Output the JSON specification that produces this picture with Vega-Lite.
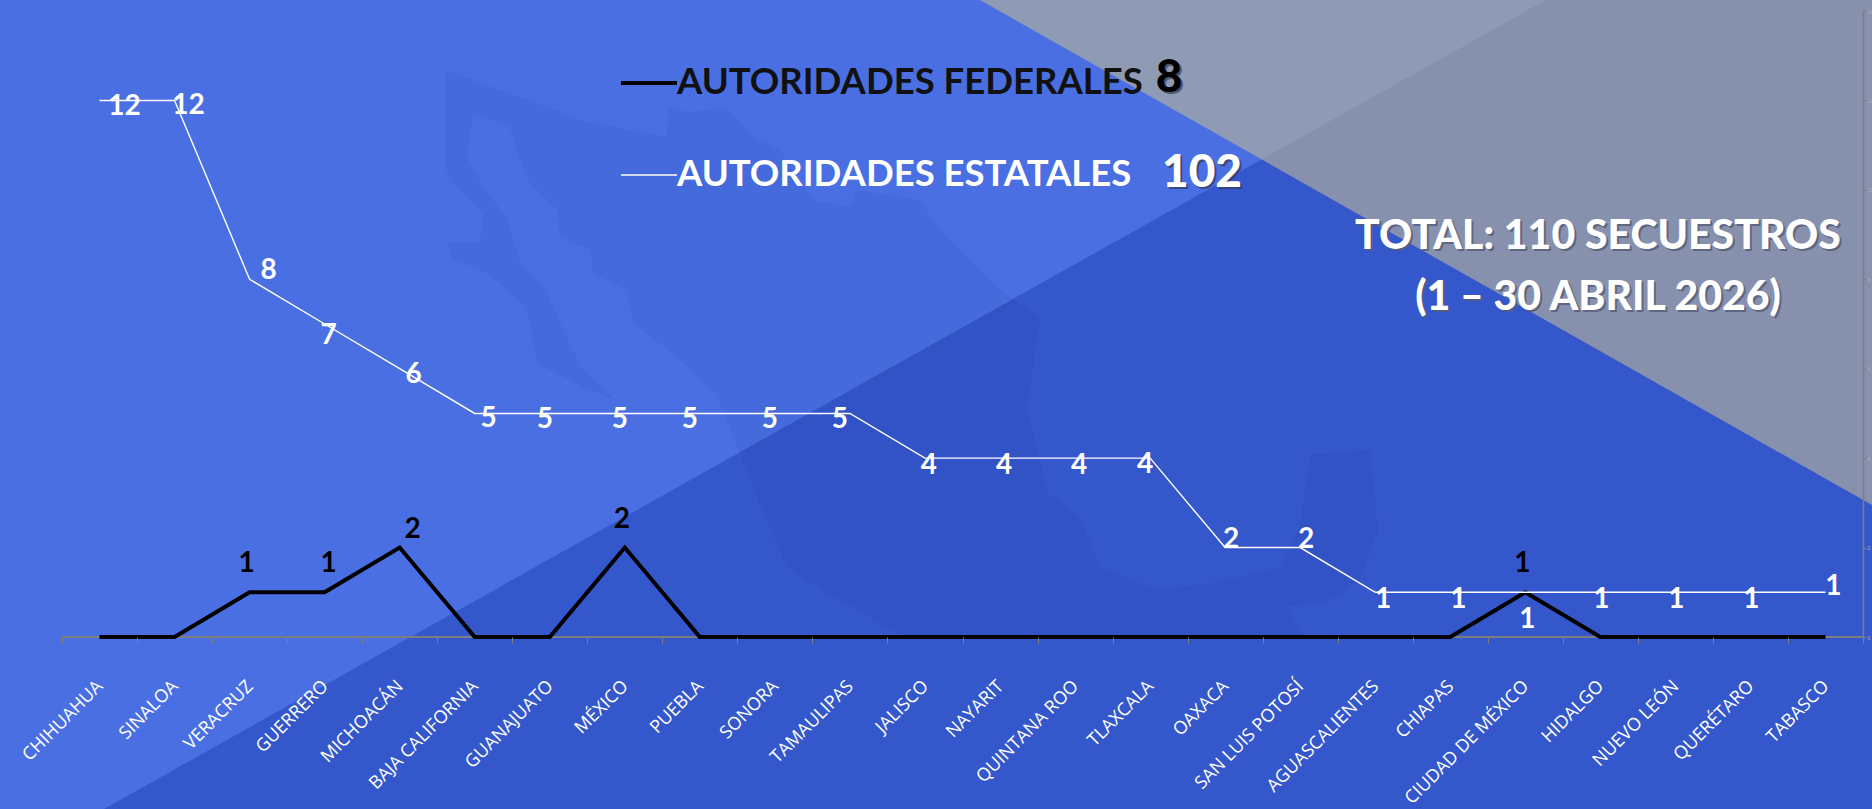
{"$schema":"https://vega.github.io/schema/vega-lite/v6.json","width":1801,"height":626,"autosize":{"type":"none"},"padding":{"left":62,"top":11,"right":9,"bottom":172},"background":"#4a6fe3","config":{"view":{"stroke":null}},
"resolve":{"scale":{"x":"independent","y":"independent"}},
"layer":[
{"layer":[
{"data":{"values":[{"px":104,"top":809,"bot":809},{"px":1546,"top":0,"bot":809},{"px":1872,"top":0,"bot":809}]},"mark":{"type":"area","color":"#3457cc"},"encoding":{"x":{"field":"px","type":"quantitative","scale":{"domain":[62,1863],"nice":false,"zero":false},"axis":null},"y":{"field":"top","type":"quantitative","scale":{"domain":[637,11],"nice":false,"zero":false},"axis":null},"y2":{"field":"bot"}}},
{"data":{"values":[{"px":980,"top":0,"bot":0},{"px":1872,"top":0,"bot":505}]},"mark":{"type":"area","color":"#b4b19c","opacity":0.65},"encoding":{"x":{"field":"px","type":"quantitative","scale":{"domain":[62,1863],"nice":false,"zero":false},"axis":null},"y":{"field":"top","type":"quantitative","scale":{"domain":[637,11],"nice":false,"zero":false},"axis":null},"y2":{"field":"bot"}}},
{"data":{"values":{"type":"Feature","properties":{},"geometry":{"type":"Polygon","coordinates":[[[445,70],[520,97],[587,122],[667,137],[668,107],[687,112],[727,108],[753,137],[780,150],[813,200],[850,207],[857,190],[920,200],[940,230],[1000,290],[1040,317],[1027,407],[1047,493],[1080,517],[1100,567],[1157,590],[1213,583],[1280,567],[1300,527],[1310,455],[1370,450],[1378,530],[1360,580],[1330,600],[1287,607],[1300,633],[1315,652],[1260,650],[1213,667],[1163,660],[1097,683],[1013,667],[947,647],[897,633],[823,590],[787,567],[760,505],[716,394],[677,357],[633,323],[627,290],[593,273],[590,250],[560,237],[557,210],[530,183],[517,153],[510,127],[473,113],[467,157],[487,193],[507,217],[520,263],[547,290],[560,323],[583,370],[615,400],[583,387],[537,363],[527,307],[487,273],[450,257],[447,242],[480,243],[483,213],[453,183],[445,167],[445,70]]]}}},"projection":{"type":"identity","scale":1,"translate":[-62,-11]},"mark":{"type":"geoshape","fill":"#14246e","opacity":0.07,"stroke":null},"encoding":{}},
{"data":{"values":[{}]},"mark":{"type":"text","font":"Lato","fontWeight":900,"fontSize":41,"color":"#555c78","opacity":0.8,"align":"center","baseline":"middle","dx":2,"dy":2},"encoding":{"x":{"datum":1598,"type":"quantitative","scale":{"domain":[62,1863],"nice":false,"zero":false},"axis":null},"y":{"datum":237,"type":"quantitative","scale":{"domain":[637,11],"nice":false,"zero":false},"axis":null},"text":{"value":"TOTAL: 110 SECUESTROS"}}},
{"data":{"values":[{}]},"mark":{"type":"text","font":"Lato","fontWeight":900,"fontSize":41,"color":"#ffffff","align":"center","baseline":"middle"},"encoding":{"x":{"datum":1598,"type":"quantitative","scale":{"domain":[62,1863],"nice":false,"zero":false},"axis":null},"y":{"datum":237,"type":"quantitative","scale":{"domain":[637,11],"nice":false,"zero":false},"axis":null},"text":{"value":"TOTAL: 110 SECUESTROS"}}},
{"data":{"values":[{}]},"mark":{"type":"text","font":"Lato","fontWeight":900,"fontSize":41,"color":"#555c78","opacity":0.8,"align":"center","baseline":"middle","dx":2,"dy":2},"encoding":{"x":{"datum":1598,"type":"quantitative","scale":{"domain":[62,1863],"nice":false,"zero":false},"axis":null},"y":{"datum":298,"type":"quantitative","scale":{"domain":[637,11],"nice":false,"zero":false},"axis":null},"text":{"value":"(1 – 30 ABRIL 2026)"}}},
{"data":{"values":[{}]},"mark":{"type":"text","font":"Lato","fontWeight":900,"fontSize":41,"color":"#ffffff","align":"center","baseline":"middle"},"encoding":{"x":{"datum":1598,"type":"quantitative","scale":{"domain":[62,1863],"nice":false,"zero":false},"axis":null},"y":{"datum":298,"type":"quantitative","scale":{"domain":[637,11],"nice":false,"zero":false},"axis":null},"text":{"value":"(1 – 30 ABRIL 2026)"}}},
{"data":{"values":[{}]},"mark":{"type":"text","font":"Lato","fontWeight":900,"fontSize":46,"color":"#333a55","opacity":0.7,"align":"center","baseline":"middle","dx":2,"dy":2},"encoding":{"x":{"datum":1169,"type":"quantitative","scale":{"domain":[62,1863],"nice":false,"zero":false},"axis":null},"y":{"datum":78,"type":"quantitative","scale":{"domain":[637,11],"nice":false,"zero":false},"axis":null},"text":{"value":"8"}}},
{"data":{"values":[{}]},"mark":{"type":"text","font":"Lato","fontWeight":900,"fontSize":46,"color":"#000000","align":"center","baseline":"middle"},"encoding":{"x":{"datum":1169,"type":"quantitative","scale":{"domain":[62,1863],"nice":false,"zero":false},"axis":null},"y":{"datum":78,"type":"quantitative","scale":{"domain":[637,11],"nice":false,"zero":false},"axis":null},"text":{"value":"8"}}},
{"data":{"values":[{}]},"mark":{"type":"text","font":"Lato","fontWeight":900,"fontSize":46,"color":"#333a55","opacity":0.7,"align":"center","baseline":"middle","dx":2,"dy":2},"encoding":{"x":{"datum":1202,"type":"quantitative","scale":{"domain":[62,1863],"nice":false,"zero":false},"axis":null},"y":{"datum":173,"type":"quantitative","scale":{"domain":[637,11],"nice":false,"zero":false},"axis":null},"text":{"value":"102"}}},
{"data":{"values":[{}]},"mark":{"type":"text","font":"Lato","fontWeight":900,"fontSize":46,"color":"#ffffff","align":"center","baseline":"middle"},"encoding":{"x":{"datum":1202,"type":"quantitative","scale":{"domain":[62,1863],"nice":false,"zero":false},"axis":null},"y":{"datum":173,"type":"quantitative","scale":{"domain":[637,11],"nice":false,"zero":false},"axis":null},"text":{"value":"102"}}}
]},
{"data":{"values":[
{"estado":"CHIHUAHUA","serie":"AUTORIDADES FEDERALES","valor":0},{"estado":"SINALOA","serie":"AUTORIDADES FEDERALES","valor":0},{"estado":"VERACRUZ","serie":"AUTORIDADES FEDERALES","valor":1},{"estado":"GUERRERO","serie":"AUTORIDADES FEDERALES","valor":1},{"estado":"MICHOACÁN","serie":"AUTORIDADES FEDERALES","valor":2},{"estado":"BAJA CALIFORNIA","serie":"AUTORIDADES FEDERALES","valor":0},{"estado":"GUANAJUATO","serie":"AUTORIDADES FEDERALES","valor":0},{"estado":"MÉXICO","serie":"AUTORIDADES FEDERALES","valor":2},{"estado":"PUEBLA","serie":"AUTORIDADES FEDERALES","valor":0},{"estado":"SONORA","serie":"AUTORIDADES FEDERALES","valor":0},{"estado":"TAMAULIPAS","serie":"AUTORIDADES FEDERALES","valor":0},{"estado":"JALISCO","serie":"AUTORIDADES FEDERALES","valor":0},{"estado":"NAYARIT","serie":"AUTORIDADES FEDERALES","valor":0},{"estado":"QUINTANA ROO","serie":"AUTORIDADES FEDERALES","valor":0},{"estado":"TLAXCALA","serie":"AUTORIDADES FEDERALES","valor":0},{"estado":"OAXACA","serie":"AUTORIDADES FEDERALES","valor":0},{"estado":"SAN LUIS POTOSÍ","serie":"AUTORIDADES FEDERALES","valor":0},{"estado":"AGUASCALIENTES","serie":"AUTORIDADES FEDERALES","valor":0},{"estado":"CHIAPAS","serie":"AUTORIDADES FEDERALES","valor":0},{"estado":"CIUDAD DE MÉXICO","serie":"AUTORIDADES FEDERALES","valor":1},{"estado":"HIDALGO","serie":"AUTORIDADES FEDERALES","valor":0},{"estado":"NUEVO LEÓN","serie":"AUTORIDADES FEDERALES","valor":0},{"estado":"QUERÉTARO","serie":"AUTORIDADES FEDERALES","valor":0},{"estado":"TABASCO","serie":"AUTORIDADES FEDERALES","valor":0},
{"estado":"CHIHUAHUA","serie":"AUTORIDADES ESTATALES","valor":12},{"estado":"SINALOA","serie":"AUTORIDADES ESTATALES","valor":12},{"estado":"VERACRUZ","serie":"AUTORIDADES ESTATALES","valor":8},{"estado":"GUERRERO","serie":"AUTORIDADES ESTATALES","valor":7},{"estado":"MICHOACÁN","serie":"AUTORIDADES ESTATALES","valor":6},{"estado":"BAJA CALIFORNIA","serie":"AUTORIDADES ESTATALES","valor":5},{"estado":"GUANAJUATO","serie":"AUTORIDADES ESTATALES","valor":5},{"estado":"MÉXICO","serie":"AUTORIDADES ESTATALES","valor":5},{"estado":"PUEBLA","serie":"AUTORIDADES ESTATALES","valor":5},{"estado":"SONORA","serie":"AUTORIDADES ESTATALES","valor":5},{"estado":"TAMAULIPAS","serie":"AUTORIDADES ESTATALES","valor":5},{"estado":"JALISCO","serie":"AUTORIDADES ESTATALES","valor":4},{"estado":"NAYARIT","serie":"AUTORIDADES ESTATALES","valor":4},{"estado":"QUINTANA ROO","serie":"AUTORIDADES ESTATALES","valor":4},{"estado":"TLAXCALA","serie":"AUTORIDADES ESTATALES","valor":4},{"estado":"OAXACA","serie":"AUTORIDADES ESTATALES","valor":2},{"estado":"SAN LUIS POTOSÍ","serie":"AUTORIDADES ESTATALES","valor":2},{"estado":"AGUASCALIENTES","serie":"AUTORIDADES ESTATALES","valor":1},{"estado":"CHIAPAS","serie":"AUTORIDADES ESTATALES","valor":1},{"estado":"CIUDAD DE MÉXICO","serie":"AUTORIDADES ESTATALES","valor":1},{"estado":"HIDALGO","serie":"AUTORIDADES ESTATALES","valor":1},{"estado":"NUEVO LEÓN","serie":"AUTORIDADES ESTATALES","valor":1},{"estado":"QUERÉTARO","serie":"AUTORIDADES ESTATALES","valor":1},{"estado":"TABASCO","serie":"AUTORIDADES ESTATALES","valor":1}
]},
"encoding":{"x":{"field":"estado","type":"nominal","sort":null,"scale":{"type":"band","padding":0},"axis":{"title":null,"zindex":1,"tickBand":"extent","domain":false,"labelAngle":-45,"labelFont":"Open Sans","labelFontSize":18,"labelOffset":-6,"labelColor":"#ffffff","labelPadding":34,"labelOverlap":false,"labelLimit":300,"tickColor":"#7f7f7f","tickSize":6,"grid":false}},"y":{"field":"valor","type":"quantitative","scale":{"domain":[0,14],"nice":false},"axis":{"orient":"right","zindex":1,"title":null,"values":[0,2,4,6,8,10,12,14],"grid":false,"domainColor":"#7f7f7f","domainWidth":1.5,"tickColor":"#7f7f7f","tickSize":3,"labelColor":"#b5b5b5","labelFontSize":5,"labelPadding":1}}},
"layer":[
{"mark":{"type":"rule","color":"#7f7f7f","strokeWidth":1},"encoding":{"x":null,"y":{"datum":0,"type":"quantitative"}}},
{"mark":{"type":"line","strokeCap":"butt"},"encoding":{"color":{"field":"serie","type":"nominal","sort":null,"scale":{"domain":["AUTORIDADES FEDERALES","AUTORIDADES ESTATALES"],"range":["#000000","#ffffff"]},"legend":{"orient":"none","legendX":557,"legendY":42,"direction":"vertical","title":null,"symbolType":"stroke","symbolSize":3136,"labelFont":"Lato","labelFontSize":36.5,"labelFontWeight":"bold","labelLimit":800,"labelOffset":-2,"rowPadding":44,"encode":{"labels":{"update":{"fill":{"signal":"datum.value=='AUTORIDADES FEDERALES'?'#111111':'#ffffff'"}}}}}},"strokeWidth":{"field":"serie","type":"nominal","sort":null,"scale":{"domain":["AUTORIDADES FEDERALES","AUTORIDADES ESTATALES"],"range":[4,1.4]}}}},
{"transform":[{"filter":"datum.serie=='AUTORIDADES ESTATALES'&&datum.estado=='CHIHUAHUA'"}],"mark":{"type":"text","font":"Lato","fontWeight":"bold","fontSize":28,"color":"#ffffff","dx":25,"dy":7},"encoding":{"text":{"field":"valor"}}},
{"transform":[{"filter":{"and":[{"field":"serie","equal":"AUTORIDADES ESTATALES"},{"field":"estado","oneOf":["SINALOA","MICHOACÁN","BAJA CALIFORNIA"]}]}}],"mark":{"type":"text","font":"Lato","fontWeight":"bold","fontSize":28,"color":"#ffffff","dx":14,"dy":6},"encoding":{"text":{"field":"valor"}}},
{"transform":[{"filter":"datum.serie=='AUTORIDADES ESTATALES'&&datum.estado=='VERACRUZ'"}],"mark":{"type":"text","font":"Lato","fontWeight":"bold","fontSize":28,"color":"#ffffff","dx":19,"dy":-8},"encoding":{"text":{"field":"valor"}}},
{"transform":[{"filter":"datum.serie=='AUTORIDADES ESTATALES'&&datum.estado=='GUERRERO'"}],"mark":{"type":"text","font":"Lato","fontWeight":"bold","fontSize":28,"color":"#ffffff","dx":4,"dy":12},"encoding":{"text":{"field":"valor"}}},
{"transform":[{"filter":{"and":[{"field":"serie","equal":"AUTORIDADES ESTATALES"},{"field":"estado","oneOf":["GUANAJUATO","MÉXICO","SONORA","TLAXCALA"]}]}}],"mark":{"type":"text","font":"Lato","fontWeight":"bold","fontSize":28,"color":"#ffffff","dx":-5,"dy":7},"encoding":{"text":{"field":"valor"}}},
{"transform":[{"filter":{"and":[{"field":"serie","equal":"AUTORIDADES ESTATALES"},{"field":"estado","oneOf":["PUEBLA","TAMAULIPAS"]}]}}],"mark":{"type":"text","font":"Lato","fontWeight":"bold","fontSize":28,"color":"#ffffff","dx":-10,"dy":7},"encoding":{"text":{"field":"valor"}}},
{"transform":[{"filter":{"and":[{"field":"serie","equal":"AUTORIDADES ESTATALES"},{"field":"estado","oneOf":["JALISCO","NAYARIT","QUINTANA ROO"]}]}}],"mark":{"type":"text","font":"Lato","fontWeight":"bold","fontSize":28,"color":"#ffffff","dx":4,"dy":8},"encoding":{"text":{"field":"valor"}}},
{"transform":[{"filter":{"and":[{"field":"serie","equal":"AUTORIDADES ESTATALES"},{"field":"estado","oneOf":["OAXACA","SAN LUIS POTOSÍ"]}]}}],"mark":{"type":"text","font":"Lato","fontWeight":"bold","fontSize":28,"color":"#ffffff","dx":6,"dy":-8},"encoding":{"text":{"field":"valor"}}},
{"transform":[{"filter":{"and":[{"field":"serie","equal":"AUTORIDADES ESTATALES"},{"field":"estado","oneOf":["AGUASCALIENTES","CHIAPAS"]}]}}],"mark":{"type":"text","font":"Lato","fontWeight":"bold","fontSize":28,"color":"#ffffff","dx":8,"dy":8},"encoding":{"text":{"field":"valor"}}},
{"transform":[{"filter":{"and":[{"field":"serie","equal":"AUTORIDADES ESTATALES"},{"field":"estado","oneOf":["HIDALGO","NUEVO LEÓN","QUERÉTARO"]}]}}],"mark":{"type":"text","font":"Lato","fontWeight":"bold","fontSize":28,"color":"#ffffff","dx":1,"dy":8},"encoding":{"text":{"field":"valor"}}},
{"transform":[{"filter":"datum.serie=='AUTORIDADES ESTATALES'&&datum.estado=='CIUDAD DE MÉXICO'"}],"mark":{"type":"text","font":"Lato","fontWeight":"bold","fontSize":28,"color":"#ffffff","dx":2,"dy":28},"encoding":{"text":{"field":"valor"}}},
{"transform":[{"filter":"datum.serie=='AUTORIDADES ESTATALES'&&datum.estado=='TABASCO'"}],"mark":{"type":"text","font":"Lato","fontWeight":"bold","fontSize":28,"color":"#ffffff","dx":8,"dy":-5},"encoding":{"text":{"field":"valor"}}},
{"transform":[{"filter":{"and":[{"field":"serie","equal":"AUTORIDADES FEDERALES"},{"field":"estado","oneOf":["VERACRUZ","MÉXICO","CIUDAD DE MÉXICO"]}]}}],"mark":{"type":"text","font":"Lato","fontWeight":"bold","fontSize":28,"color":"#000000","dx":-3,"dy":-28},"encoding":{"text":{"field":"valor"}}},
{"transform":[{"filter":"datum.serie=='AUTORIDADES FEDERALES'&&datum.estado=='GUERRERO'"}],"mark":{"type":"text","font":"Lato","fontWeight":"bold","fontSize":28,"color":"#000000","dx":4,"dy":-28},"encoding":{"text":{"field":"valor"}}},
{"transform":[{"filter":"datum.serie=='AUTORIDADES FEDERALES'&&datum.estado=='MICHOACÁN'"}],"mark":{"type":"text","font":"Lato","fontWeight":"bold","fontSize":28,"color":"#000000","dx":13,"dy":-18},"encoding":{"text":{"field":"valor"}}}
]}
]}
